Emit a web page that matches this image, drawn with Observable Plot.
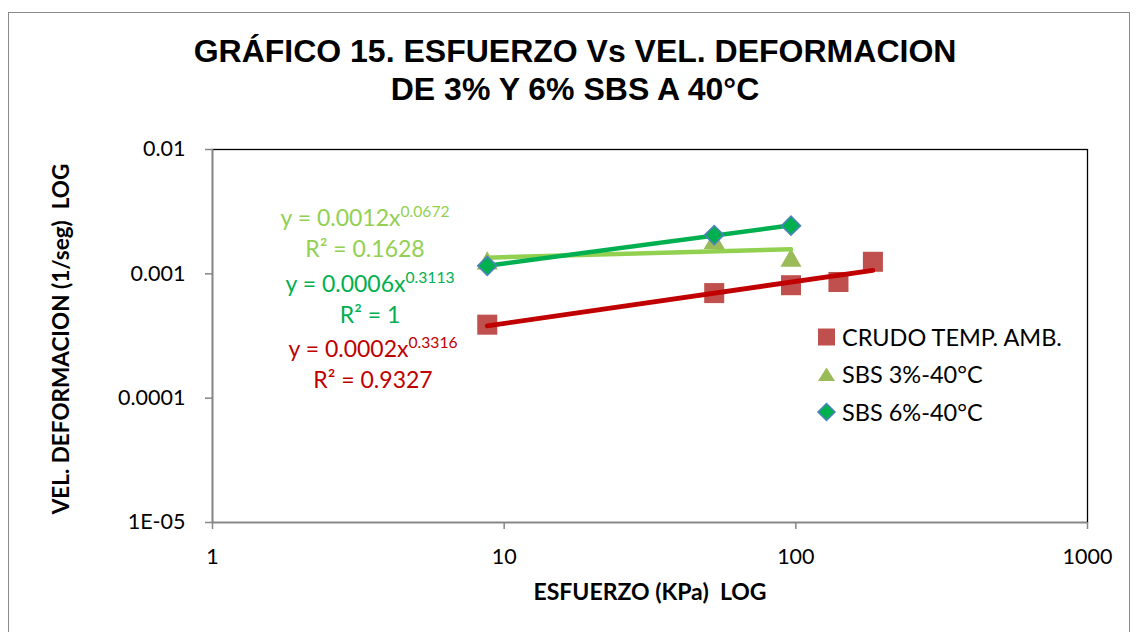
<!DOCTYPE html>
<html>
<head>
<meta charset="utf-8">
<script src="https://cdn.jsdelivr.net/npm/d3@7"></script>
<script src="https://cdn.jsdelivr.net/npm/@observablehq/plot@0.6"></script>
<style>
  html, body { margin: 0; padding: 0; background: #fff; }
  #wrap { position: relative; width: 1139px; height: 632px; overflow: hidden; background: #fff; }
  #border { position: absolute; left: 8px; top: 12px; width: 1122px; height: 660px; border: 1.5px solid #8a8a8a; box-sizing: border-box; }
  #title { position: absolute; left: 0; top: 32px; width: 1150px; text-align: center;
           font-family: "Liberation Sans", Arial, sans-serif; font-weight: bold; font-size: 32px; line-height: 38px; color: #000; }
  #chart { position: absolute; left: 0; top: 115px; }
  .eq { position: absolute; width: 260px; text-align: center; font-family: Lato, sans-serif; font-size: 23px; line-height: 1; white-space: nowrap; }
  .eq sup { font-size: 68%; vertical-align: 0.6em; line-height: 0; }
  #legend { position: absolute; left: 808px; top: 318px; font-family: Lato, sans-serif; font-size: 23.5px; color: #000; }
  .lrow { height: 37.5px; display: flex; align-items: center; white-space: nowrap; }
  .lrow svg { width: 34px; height: 24px; flex: none; }
</style>
</head>
<body>
<div id="wrap">
  <div id="border"></div>
  <div id="title"></div>
  <div id="chart"></div>
  <div id="eqs"></div>
  <div id="legend"></div>
</div>
<script>
// ---- data ----
const titleLines = ["GRÁFICO 15. ESFUERZO Vs VEL. DEFORMACION", "DE 3% Y 6% SBS A 40°C"];
const xTitle = "ESFUERZO (KPa)\u00a0\u00a0LOG";
const yTitle = "VEL. DEFORMACION (1/seg)\u00a0\u00a0LOG";
const seriesNames = ["CRUDO TEMP. AMB.", "SBS 3%-40°C", "SBS 6%-40°C"];

const esfuerzoCrudo = [8.75, 52.5, 96.25, 140, 183.75];
const velCrudo      = [0.00039, 0.00070, 0.00081, 0.00086, 0.00125];
const esfuerzoSBS   = [8.75, 52.5, 96.25];
const velSBS3       = [0.00128, 0.00187, 0.00135];
const velSBS6       = [0.00116, 0.00205, 0.00244];

const xTicks = [1, 10, 100, 1000];
const xTickLabels = ["1", "10", "100", "1000"];
const yTicks = [0.00001, 0.0001, 0.001, 0.01];
const yTickLabels = ["1E-05", "0.0001", "0.001", "0.01"];

// trendline labels as shown on the chart
const eqMain = ["y = 0.0012x", "y = 0.0006x", "y = 0.0002x"];
const eqExp  = ["0.0672", "0.3113", "0.3316"];
const eqR2   = ["R² = 0.1628", "R² = 1", "R² = 0.9327"];

// ---- colours ----
const markerColors = ["#C0504D", "#9BBB59", "#00B050"];
const trendColors  = ["#C00000", "#92D050", "#00B050"];
const diamondStroke = "#4F81BD";

// ---- helpers ----
const rows = (xs, ys, s) => xs.map((x, i) => ({x, y: ys[i], s}));
function powerTrend(xs, ys, s) {
  const lx = xs.map(Math.log10), ly = ys.map(Math.log10);
  const mx = d3.mean(lx), my = d3.mean(ly);
  const b = d3.sum(lx, (v, i) => (v - mx) * (ly[i] - my)) / d3.sum(lx, v => (v - mx) ** 2);
  const a = my - b * mx;
  const ext = d3.extent(xs);
  return ext.map(x => ({x, y: Math.pow(10, a + b * Math.log10(x)), s}));
}

const crudoRows = rows(esfuerzoCrudo, velCrudo, seriesNames[0]);
const sbs3Rows  = rows(esfuerzoSBS, velSBS3, seriesNames[1]);
const sbs6Rows  = rows(esfuerzoSBS, velSBS6, seriesNames[2]);
const trendCrudo = powerTrend(esfuerzoCrudo, velCrudo, seriesNames[0]);
const trend3 = powerTrend(esfuerzoSBS, velSBS3, seriesNames[1]);
const trend6 = powerTrend(esfuerzoSBS, velSBS6, seriesNames[2]);

// ---- title ----
document.getElementById("title").innerHTML = titleLines.join("<br>");

// ---- chart ----
const chart = Plot.plot({
  width: 1139,
  height: 517,
  marginTop: 34,
  marginBottom: 110,
  marginLeft: 212,
  marginRight: 52,
  style: {fontFamily: "Lato, sans-serif", fontSize: "21.5px", color: "#000", background: "transparent", overflow: "visible"},
  x: {type: "log", domain: [1, 1000]},
  y: {type: "log", domain: [0.00001, 0.01]},
  marks: [
    Plot.frame({stroke: "#000", strokeWidth: 1.3}),
    Plot.ruleX([1], {stroke: "#868686", strokeWidth: 1.6}),
    Plot.ruleY([0.00001], {stroke: "#868686", strokeWidth: 1.6}),
    Plot.axisX({ticks: xTicks, tickFormat: d => xTickLabels[xTicks.indexOf(d)], tickSize: 7, tickPadding: 19,
                stroke: "#868686", strokeWidth: 1.5, fill: "#000", fontSize: 21.5, label: null}),
    Plot.axisY({ticks: yTicks, tickFormat: d => yTickLabels[yTicks.indexOf(d)], tickSize: 7, tickPadding: 20,
                stroke: "#868686", strokeWidth: 1.5, fill: "#000", fontSize: 21.5, label: null}),
    Plot.text([xTitle], {frameAnchor: "bottom", textAnchor: "middle", dy: 77, fontWeight: "bold", fontSize: 23, fill: "#000"}),
    Plot.text([yTitle], {frameAnchor: "left", textAnchor: "middle", dx: -151, dy: 3, rotate: -90, fontWeight: "bold", fontSize: 22.5, fill: "#000"}),
    Plot.dot(crudoRows, {x: "x", y: "y", symbol: "square", r: 11.3, fill: markerColors[0], stroke: "none"}),
    Plot.dot(sbs3Rows, {x: "x", y: "y", symbol: "triangle", r: 7.8, dy: 3, fill: markerColors[1], stroke: "none"}),
    Plot.line(trendCrudo, {x: "x", y: "y", stroke: trendColors[0], strokeWidth: 4.8}),
    Plot.line(trend3, {x: "x", y: "y", stroke: trendColors[1], strokeWidth: 4.5}),
    Plot.line(trend6, {x: "x", y: "y", stroke: trendColors[2], strokeWidth: 4.5}),
    Plot.dot(sbs6Rows, {x: "x", y: "y", symbol: "square", rotate: 45, r: 7.6, fill: markerColors[2], stroke: diamondStroke, strokeWidth: 1.6})
  ]
});
document.getElementById("chart").appendChild(chart);

// ---- trendline equation labels (order on chart: SBS3, SBS6, crudo) ----
const eqOrder = [1, 2, 0];
const eqColors = [trendColors[1], trendColors[2], trendColors[0]];
const eqCenters = [365, 370, 373];
const eqTops = [206, 272, 337];
const eqs = document.getElementById("eqs");
eqOrder.forEach((k, i) => {
  const a = document.createElement("div");
  a.className = "eq";
  a.style.color = eqColors[i];
  a.style.left = (eqCenters[i] - 130) + "px";
  a.style.top = eqTops[i] + "px";
  a.innerHTML = `${eqMain[i]}<sup>${eqExp[i]}</sup>`;
  eqs.appendChild(a);
  const b = document.createElement("div");
  b.className = "eq";
  b.style.color = eqColors[i];
  b.style.left = (eqCenters[i] - 130) + "px";
  b.style.top = (eqTops[i] + 31) + "px";
  b.textContent = eqR2[i];
  eqs.appendChild(b);
});

// ---- legend ----
const legendSymbols = [
  `<rect x="10" y="3.5" width="17" height="17" fill="${markerColors[0]}"/>`,
  `<path d="M18.5 5.5 L27 19 L10 19 Z" fill="${markerColors[1]}"/>`,
  `<path d="M18.5 3.5 L27 12 L18.5 20.5 L10 12 Z" fill="${markerColors[2]}" stroke="${diamondStroke}" stroke-width="1.5"/>`
];
const legend = document.getElementById("legend");
seriesNames.forEach((name, i) => {
  const r = document.createElement("div");
  r.className = "lrow";
  r.innerHTML = `<svg viewBox="0 0 34 24">${legendSymbols[i]}</svg><span>${name}</span>`;
  legend.appendChild(r);
});
</script>
</body>
</html>
